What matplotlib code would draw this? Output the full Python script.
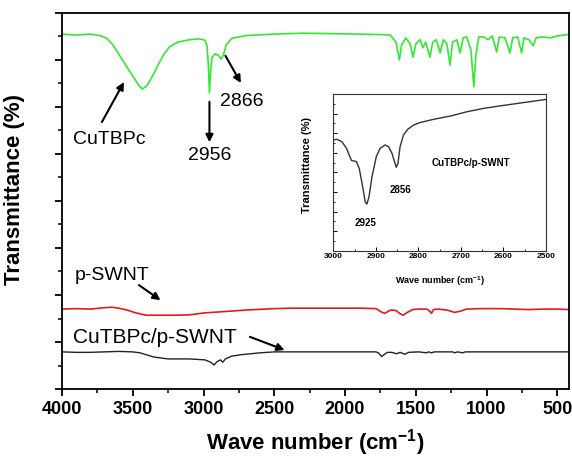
import matplotlib
matplotlib.use("Agg")
import matplotlib.pyplot as plt
from matplotlib.ticker import MultipleLocator, NullFormatter

plt.rcParams['font.family'] = ['Liberation Sans', 'DejaVu Sans']
plt.rcParams['mathtext.fontset'] = 'custom'
plt.rcParams['mathtext.rm'] = 'Liberation Sans'
plt.rcParams['mathtext.bf'] = 'Liberation Sans:bold'

# CuTBPc (green)
cutbpc_w = [4000, 3900, 3800, 3720, 3680, 3640, 3600, 3550, 3500, 3460, 3433, 3400,
            3360, 3320, 3280, 3240, 3180, 3100, 3030, 2990, 2975, 2965, 2958, 2950,
            2940, 2920, 2895, 2875, 2860, 2840, 2800, 2700, 2500, 2300, 2100, 1900,
            1750, 1680, 1640, 1616, 1600, 1570, 1540, 1519, 1500, 1470, 1450, 1430,
            1400, 1380, 1355, 1328, 1305, 1280, 1258, 1240, 1210, 1187, 1165, 1140,
            1110, 1090, 1075, 1055, 1020, 990, 960, 928, 910, 870, 834, 815, 780,
            752, 735, 700, 670, 650, 600, 550, 500, 450, 415]
cutbpc_t = [7.55, 7.53, 7.55, 7.51, 7.45, 7.32, 7.13, 6.89, 6.66, 6.47, 6.38, 6.45,
            6.66, 6.90, 7.12, 7.28, 7.38, 7.43, 7.45, 7.42, 7.30, 6.85, 6.30, 6.75,
            7.05, 7.13, 7.10, 7.02, 7.10, 7.32, 7.46, 7.52, 7.55, 7.57, 7.56, 7.55,
            7.54, 7.53, 7.38, 7.00, 7.32, 7.47, 7.34, 7.06, 7.34, 7.43, 7.26, 7.38,
            7.06, 7.38, 7.43, 7.15, 7.43, 7.34, 6.89, 7.38, 7.43, 7.15, 7.47, 7.49,
            7.21, 6.43, 7.11, 7.49, 7.49, 7.43, 7.51, 7.17, 7.49, 7.47, 7.15, 7.47,
            7.49, 7.15, 7.47, 7.43, 7.30, 7.47, 7.49, 7.47, 7.51, 7.53, 7.55]

# p-SWNT (red)
pswnt_w = [4000, 3900, 3800, 3700, 3650, 3600, 3540, 3480, 3405, 3300, 3200, 3093,
           2990, 2889, 2700, 2500, 2373, 2100, 1900, 1780, 1745, 1719, 1690, 1672,
           1640, 1610, 1590, 1560, 1521, 1480, 1420, 1400, 1389, 1375, 1340, 1280,
           1225, 1180, 1142, 1050, 900, 800, 700, 600, 500, 415]
pswnt_t = [1.70, 1.71, 1.70, 1.73, 1.74, 1.72, 1.68, 1.62, 1.57, 1.57, 1.57, 1.58,
           1.62, 1.64, 1.68, 1.71, 1.72, 1.72, 1.72, 1.71, 1.64, 1.61, 1.66, 1.68,
           1.67, 1.60, 1.57, 1.63, 1.69, 1.70, 1.70, 1.65, 1.61, 1.69, 1.70, 1.68,
           1.63, 1.66, 1.70, 1.71, 1.71, 1.70, 1.69, 1.70, 1.70, 1.69]

# CuTBPc/p-SWNT (black)
hybrid_w = [4000, 3900, 3800, 3700, 3600, 3500, 3450, 3350, 3250, 3100, 2990, 2950,
            2925, 2905, 2880, 2864, 2845, 2800, 2734, 2600, 2500, 2300, 2000, 1780,
            1760, 1742, 1720, 1700, 1670, 1636, 1610, 1578, 1550, 1480, 1425, 1410,
            1389, 1370, 1240, 1225, 1205, 1168, 1150, 415]
hybrid_t = [0.79, 0.78, 0.78, 0.79, 0.80, 0.79, 0.77, 0.68, 0.64, 0.64, 0.62, 0.57,
            0.51, 0.58, 0.62, 0.57, 0.64, 0.70, 0.73, 0.77, 0.79, 0.79, 0.79, 0.79,
            0.76, 0.69, 0.74, 0.78, 0.78, 0.75, 0.78, 0.74, 0.78, 0.79, 0.77, 0.79,
            0.77, 0.79, 0.79, 0.77, 0.79, 0.77, 0.79, 0.79]

# inset: CuTBPc/p-SWNT 3000-2500
inset_w = [3000, 2992, 2980, 2969, 2961, 2957, 2946, 2939, 2931, 2925, 2921, 2916,
           2909, 2899, 2890, 2878, 2870, 2862, 2856, 2852, 2848, 2843, 2835, 2825,
           2811, 2795, 2764, 2724, 2685, 2646, 2606, 2567, 2528, 2498]
inset_t = [5.65, 5.69, 5.57, 5.23, 4.80, 4.60, 4.56, 4.20, 3.27, 2.50, 2.38, 2.76,
           3.78, 4.80, 5.23, 5.40, 5.31, 4.97, 4.54, 4.26, 4.46, 5.31, 5.91, 6.20,
           6.42, 6.55, 6.71, 6.88, 7.10, 7.27, 7.40, 7.52, 7.64, 7.73]

xticks = [4000, 3500, 3000, 2500, 2000, 1500, 1000, 500]
inset_xticks = [3000, 2900, 2800, 2700, 2600, 2500]

fig = plt.figure(figsize=(5.72, 4.63), dpi=100)
ax = fig.add_axes([0.1084, 0.1598, 0.8869, 0.8122])

ax.plot(cutbpc_w, cutbpc_t, color='#33e833', lw=1.2)
ax.plot(pswnt_w, pswnt_t, color='#e41a1c', lw=1.2)
ax.plot(hybrid_w, hybrid_t, color='#222222', lw=1.0)

ax.set_xlim(4000, 415)
ax.set_ylim(0, 8)
ax.set_xticks(xticks)
ax.xaxis.set_minor_locator(MultipleLocator(250))
ax.yaxis.set_major_locator(MultipleLocator(1))
ax.yaxis.set_minor_locator(MultipleLocator(0.5))
ax.yaxis.set_major_formatter(NullFormatter())
ax.tick_params(which='major', direction='out', length=5, width=1.3, labelsize=13)
ax.tick_params(which='minor', direction='out', length=3, width=1.1)
for lab in ax.get_xticklabels():
    lab.set_fontweight('bold')
for s in ax.spines.values():
    s.set_linewidth(1.3)

ax.set_xlabel(r'Wave number (cm$^{\mathbf{-1}}$)', fontsize=16, fontweight='bold')
ax.set_ylabel('Transmittance (%)', fontsize=16, fontweight='bold')
ax.xaxis.set_label_coords(0.5, -0.1)
ax.yaxis.set_label_coords(-0.073, 0.53)

arrow = dict(arrowstyle='-|>', color='black', lw=1.5, mutation_scale=11, shrinkA=0, shrinkB=0)
ax.annotate('', xy=(3562, 6.53), xytext=(3718, 5.68), arrowprops=arrow)
ax.text(3665, 5.21, 'CuTBPc', fontsize=14, ha='center', va='baseline')
ax.annotate('', xy=(2958, 5.25), xytext=(2958, 6.11), arrowprops=arrow)
ax.text(2958, 4.87, '2956', fontsize=14, ha='center', va='baseline')
ax.annotate('', xy=(2736, 6.51), xytext=(2845, 7.09), arrowprops=arrow)
ax.text(2732, 6.03, '2866', fontsize=14, ha='center', va='baseline')
ax.annotate('', xy=(3304, 1.89), xytext=(3456, 2.21), arrowprops=arrow)
ax.text(3647, 2.32, 'p-SWNT', fontsize=14, ha='center', va='baseline')
ax.annotate('', xy=(2427, 0.83), xytext=(2672, 1.11), arrowprops=arrow)
ax.text(3343, 0.97, 'CuTBPc/p-SWNT', fontsize=15, ha='center', va='baseline')

# inset
ins = fig.add_axes([0.5827, 0.4585, 0.3718, 0.3384])
ins.plot(inset_w, inset_t, color='#333333', lw=1.0)
ins.set_xlim(3000, 2500)
ins.set_ylim(0, 8)
ins.set_xticks(inset_xticks)
ins.xaxis.set_minor_locator(MultipleLocator(50))
ins.yaxis.set_major_locator(MultipleLocator(1))
ins.yaxis.set_minor_locator(MultipleLocator(0.5))
ins.yaxis.set_major_formatter(NullFormatter())
ins.tick_params(which='major', direction='in', length=3, width=0.7, labelsize=6, pad=2)
ins.tick_params(which='minor', direction='in', length=1.5, width=0.6)
for lab in ins.get_xticklabels():
    lab.set_fontweight('bold')
for s in ins.spines.values():
    s.set_linewidth(0.8)
    s.set_color('#333333')
ins.set_xlabel(r'Wave number (cm$^{\mathbf{-1}}$)', fontsize=6.5, fontweight='bold')
ins.set_ylabel('Transmittance (%)', fontsize=8, fontweight='bold')
ins.xaxis.set_label_coords(0.5, -0.15)
ins.yaxis.set_label_coords(-0.10, 0.55)
ins.text(2677, 4.5, 'CuTBPc/p-SWNT', fontsize=7, fontweight='bold', ha='center', va='center')
ins.text(2841, 3.1, '2856', fontsize=7, fontweight='bold', ha='center', va='center')
ins.text(2923, 1.4, '2925', fontsize=7, fontweight='bold', ha='center', va='center')

fig.savefig('out.png', dpi=100)
